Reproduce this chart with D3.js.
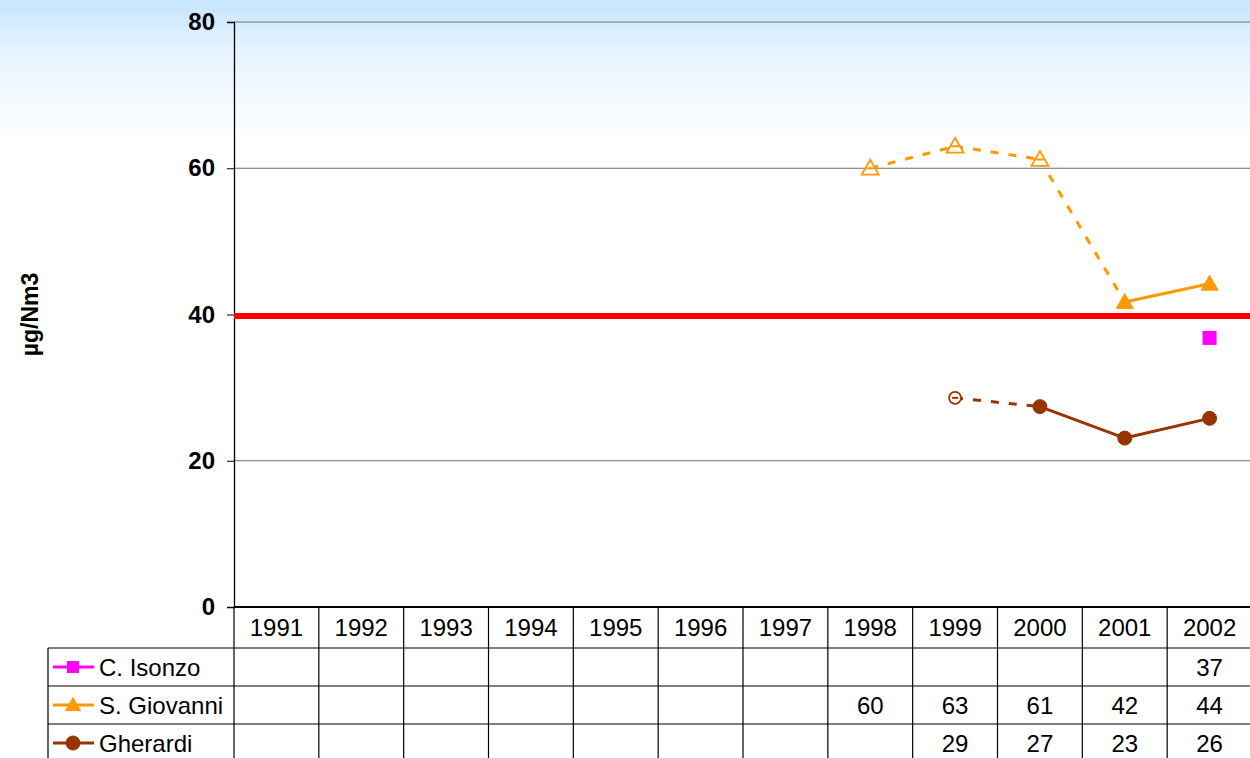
<!DOCTYPE html>
<html>
<head>
<meta charset="utf-8">
<script src="https://cdn.jsdelivr.net/npm/d3@7"></script>
<style>
  body { margin: 0; background: #fff; }
  svg { display: block; font-family: "Liberation Sans", Arial, sans-serif; }
</style>
</head>
<body>
<div id="chart"></div>
<script>
// data
const years = [1991, 1992, 1993, 1994, 1995, 1996, 1997, 1998, 1999, 2000, 2001, 2002];
const cIsonzo = [null, null, null, null, null, null, null, null, null, null, null, 36.8];
const sGiovanni = [null, null, null, null, null, null, null, 60.0, 63.0, 61.2, 41.7, 44.2];
const gherardi = [null, null, null, null, null, null, null, null, 28.6, 27.4, 23.1, 25.8];
// years with partial measurements (open marker, dashed link to the next point)
const sGiovanniPartial = [1998, 1999, 2000];
const gherardiPartial = [1999];
const limitValue = 40;
const yTicks = [0, 20, 40, 60, 80];

const series = [
  {name: "C. Isonzo", values: cIsonzo, partial: [], color: "#ff00ff", shape: "square"},
  {name: "S. Giovanni", values: sGiovanni, partial: sGiovanniPartial, color: "#ff9900", shape: "triangle"},
  {name: "Gherardi", values: gherardi, partial: gherardiPartial, color: "#993300", shape: "circle"}
];

const width = 1250, height = 758,
  margin = {top: 22, left: 234, right: -2, bottom: 151};
const rowH = [41, 38, 38, 38];
const legendLeft = 48;

const svg = d3.select("#chart").append("svg")
  .attr("width", width)
  .attr("height", height);

const grad = svg.append("defs").append("linearGradient")
  .attr("id", "bg").attr("x1", 0).attr("x2", 0).attr("y1", 0).attr("y2", 1);
grad.append("stop").attr("offset", "0%").attr("stop-color", "#c6e5fd");
grad.append("stop").attr("offset", "7%").attr("stop-color", "#e6f4ff");
grad.append("stop").attr("offset", "19%").attr("stop-color", "#ffffff");
grad.append("stop").attr("offset", "100%").attr("stop-color", "#ffffff");
svg.append("rect").attr("width", width).attr("height", height).attr("fill", "url(#bg)");

const x = d3.scaleBand()
  .domain(years)
  .range([margin.left, width - margin.right]);

const y = d3.scaleLinear()
  .domain([0, 80])
  .range([height - margin.bottom, margin.top]);

// grid
svg.append("g")
  .selectAll("line")
  .data(yTicks.filter(d => d > 0))
  .join("line")
  .attr("x1", margin.left).attr("x2", width)
  .attr("y1", d => y(d)).attr("y2", d => y(d))
  .attr("stroke", "#6e6e6e").attr("stroke-width", 1.2);

// y axis
const yAxis = d3.axisLeft(y).tickValues(yTicks).tickSize(7).tickPadding(12);
const ga = svg.append("g")
  .attr("transform", "translate(" + margin.left + ",0)")
  .attr("font-size", 24)
  .call(yAxis);
ga.attr("font-size", 24).attr("font-family", "Liberation Sans, Arial, sans-serif");
ga.select(".domain").attr("stroke", "#000").attr("stroke-width", 1.3);
ga.selectAll(".tick line").attr("stroke", "#000");
ga.selectAll(".tick text")
  .style("font-size", "24px").attr("font-weight", "bold").attr("fill", "#000");

svg.append("text")
  .attr("transform", "translate(38," + y(40) + ") rotate(-90)")
  .attr("text-anchor", "middle")
  .attr("font-size", 23).attr("font-weight", "bold")
  .text("\u00b5g/Nm3");

// limit line
svg.append("line")
  .attr("x1", margin.left).attr("x2", width)
  .attr("y1", y(limitValue) + 1.5).attr("y2", y(limitValue) + 1.5)
  .attr("stroke", "#ff0000").attr("stroke-width", 6);

// marker drawing
function marker(g, shape, color, cx, cy, open, big) {
  if (shape === "triangle") {
    const s = big ? 8.5 : 7.5;
    g.append("path")
      .attr("d", "M" + cx + "," + (cy - s) + "L" + (cx + s) + "," + (cy + s * 0.75) + "L" + (cx - s) + "," + (cy + s * 0.75) + "Z")
      .attr("fill", open ? "#fff" : color)
      .attr("stroke", color).attr("stroke-width", open ? 1.8 : 1);
    if (open) {
      g.append("line").attr("x1", cx - 4).attr("x2", cx + 4).attr("y1", cy).attr("y2", cy)
        .attr("stroke", color).attr("stroke-width", 2);
    }
  } else if (shape === "circle") {
    const r = open ? 6 : 7;
    g.append("circle").attr("cx", cx).attr("cy", cy).attr("r", r)
      .attr("fill", open ? "#fff" : color)
      .attr("stroke", color).attr("stroke-width", open ? 1.8 : 1);
    if (open) {
      g.append("line").attr("x1", cx - 3).attr("x2", cx + 3).attr("y1", cy).attr("y2", cy)
        .attr("stroke", color).attr("stroke-width", 2);
    }
  } else {
    const s = big ? 7 : 6;
    g.append("rect").attr("x", cx - s).attr("y", cy - s).attr("width", 2 * s).attr("height", 2 * s)
      .attr("fill", color);
  }
}

// series lines
const cx = d => x(d) + x.bandwidth() / 2;
series.forEach(s => {
  const g = svg.append("g");
  const pts = years.map((yr, i) => ({year: yr, v: s.values[i]})).filter(d => d.v != null);
  for (let i = 0; i < pts.length - 1; i++) {
    const a = pts[i], b = pts[i + 1];
    const dashed = s.partial.includes(a.year);
    g.append("line")
      .attr("x1", cx(a.year)).attr("y1", y(a.v))
      .attr("x2", cx(b.year)).attr("y2", y(b.v))
      .attr("stroke", s.color).attr("stroke-width", 3)
      .attr("stroke-dasharray", dashed ? "8,10" : null);
  }
  pts.forEach(p => marker(g, s.shape, s.color, cx(p.year), y(p.v), s.partial.includes(p.year), true));
});

// data table
const tTop = height - margin.bottom;
const rowY = [tTop];
rowH.forEach((h, i) => rowY.push(rowY[i] + h));
const tg = svg.append("g").attr("stroke", "#000").attr("stroke-width", 1.2);
tg.append("line").attr("x1", margin.left).attr("x2", width)
  .attr("y1", tTop).attr("y2", tTop).attr("stroke-width", 2);
rowY.slice(1).forEach(ry => {
  tg.append("line").attr("x1", legendLeft).attr("x2", width)
    .attr("y1", ry).attr("y2", ry);
});
tg.append("line").attr("x1", legendLeft).attr("x2", legendLeft).attr("y1", rowY[1]).attr("y2", height);
years.forEach(yr => {
  tg.append("line").attr("x1", x(yr) + x.bandwidth()).attr("x2", x(yr) + x.bandwidth())
    .attr("y1", tTop).attr("y2", height);
});
tg.append("line").attr("x1", margin.left).attr("x2", margin.left).attr("y1", tTop).attr("y2", height);

svg.append("g").selectAll("text")
  .data(years)
  .join("text")
  .attr("x", d => cx(d)).attr("y", tTop + rowH[0] / 2 + 8)
  .attr("text-anchor", "middle").attr("font-size", 24)
  .text(d => d);

const fmt = d3.format(".0f");
series.forEach((s, si) => {
  const ry = rowY[si + 1] + rowH[si + 1] / 2;
  const g = svg.append("g");
  g.append("line").attr("x1", 53).attr("x2", 94).attr("y1", ry).attr("y2", ry)
    .attr("stroke", s.color).attr("stroke-width", 3);
  marker(g, s.shape, s.color, 73, ry, false, false);
  g.append("text").attr("x", 99).attr("y", ry + 9).attr("font-size", 24).text(s.name);
  g.selectAll("text.v")
    .data(years.map((yr, i) => ({year: yr, v: s.values[i]})).filter(d => d.v != null))
    .join("text")
    .attr("class", "v")
    .attr("x", d => cx(d.year)).attr("y", ry + 9)
    .attr("text-anchor", "middle").attr("font-size", 24)
    .text(d => fmt(d.v));
});
</script>
</body>
</html>
